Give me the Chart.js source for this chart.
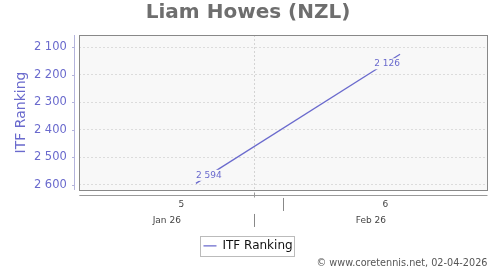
<!DOCTYPE html>
<html>
<head>
<meta charset="utf-8">
<style>
  html, body { margin: 0; padding: 0; background: #fff; }
  #wrap { width: 500px; height: 270px; }
</style>
<script src="https://cdn.jsdelivr.net/npm/chart.js@4.4.1/dist/chart.umd.min.js"></script>
</head>
<body>
<div id="wrap"><canvas id="chart" width="500" height="270"></canvas></div>
<script>
// ranking points (dates as day offsets from the start of week 5)
const startDate = '2026-01-26';
const pointDates = ['2026-01-30', '2026-02-06'];
const itfRanking = [2594, 2126];

// x axis: two weeks, split into week and month bands
const axisDays = 14;
const weekCenters = [3.5, 10.5];
const weekLabels = ['5', '6'];
const weekBreaks = [7];
const monthTicks = [3, 6, 10];
const monthLabels = ['Jan 26', '', 'Feb 26'];
const monthBreaks = [6];

const yMin = 2056;
const yMax = 2618;

const BLUE = '#6a6acd';
const FONT = "'DejaVu Sans', sans-serif";

function dayOffset(d) {
    return (Date.parse(d) - Date.parse(startDate)) / 86400000;
}

function fmt(v) {
    const s = String(v);
    return s.length > 3 ? s.slice(0, -3) + '\u00a0' + s.slice(-3) : s;
}

const points = pointDates.map((d, i) => ({ x: dayOffset(d), y: itfRanking[i] }));

const frame = {
    id: 'frame',
    beforeDraw(chart) {
        const { ctx, chartArea: a } = chart;
        ctx.save();
        ctx.fillStyle = '#f8f8f8';
        ctx.fillRect(a.left, a.top, a.width, a.height);
        ctx.restore();
    },
    afterDatasetsDraw(chart) {
        // value labels, masking the line underneath
        const { ctx } = chart;
        const meta = chart.getDatasetMeta(0);
        ctx.save();
        ctx.font = '9px ' + FONT;
        ctx.textBaseline = 'middle';
        meta.data.forEach((pt, i) => {
            const text = fmt(itfRanking[i]);
            const w = ctx.measureText(text).width;
            const first = i === 0;
            const x = first ? pt.x : pt.x - w;
            const cy = first ? pt.y - 8 : pt.y + 9.5;
            ctx.fillStyle = '#f8f8f8';
            ctx.fillRect(x, cy - 5.5, w, 11);
            ctx.fillStyle = BLUE;
            ctx.textAlign = 'left';
            ctx.fillText(text, x, cy);
        });
        ctx.restore();
    },
    afterDraw(chart) {
        const { ctx, chartArea: a, scales } = chart;
        ctx.save();
        ctx.lineWidth = 1;
        ctx.strokeStyle = '#888';
        ctx.strokeRect(Math.round(a.left) + 0.5, Math.round(a.top) + 0.5,
            Math.round(a.width), Math.round(a.height));

        // y axis line and tick marks
        const yx = Math.round(a.left) - 4.5;
        ctx.strokeStyle = '#b4b4dc';
        ctx.beginPath();
        ctx.moveTo(yx, a.top);
        ctx.lineTo(yx, a.bottom);
        scales.y.ticks.forEach((t) => {
            const py = Math.round(scales.y.getPixelForValue(t.value)) + 0.5;
            ctx.moveTo(yx - 2.5, py);
            ctx.lineTo(yx, py);
        });
        ctx.stroke();

        // x axis line
        const xy = Math.round(a.bottom) + 5.5;
        ctx.strokeStyle = '#999';
        ctx.beginPath();
        ctx.moveTo(a.left, xy);
        ctx.lineTo(a.right, xy);
        monthBreaks.forEach((v) => {
            const px = Math.round(scales.x2.getPixelForValue(v)) + 0.5;
            ctx.moveTo(px, xy - 3);
            ctx.lineTo(px, xy + 2);
        });
        ctx.stroke();

        // week and month separators
        ctx.strokeStyle = '#888';
        ctx.beginPath();
        weekBreaks.forEach((v) => {
            const px = Math.round(scales.x.getPixelForValue(v)) + 0.5;
            ctx.moveTo(px, a.bottom + 8);
            ctx.lineTo(px, a.bottom + 21);
        });
        monthBreaks.forEach((v) => {
            const px = Math.round(scales.x2.getPixelForValue(v)) + 0.5;
            ctx.moveTo(px, a.bottom + 24);
            ctx.lineTo(px, a.bottom + 37);
        });
        ctx.stroke();

        // legend frame
        const hb = chart.legend.legendHitBoxes[0];
        if (hb) {
            const cy = hb.top + hb.height / 2;
            ctx.strokeStyle = '#bbb';
            ctx.strokeRect(Math.round(hb.left - 3) + 0.5, Math.round(cy - 10) + 0.5,
                Math.round(hb.width + 5), 20);
        }
        ctx.restore();
    },
};

new Chart(document.getElementById('chart'), {
    type: 'line',
    data: {
        datasets: [{
            label: 'ITF Ranking',
            data: points,
            borderColor: BLUE,
            backgroundColor: BLUE,
            borderWidth: 1.3,
            pointRadius: 0,
            tension: 0,
        }],
    },
    options: {
        responsive: false,
        animation: false,
        events: [],
        layout: { padding: { left: 8.6, right: 12.5, top: 0, bottom: 0 } },
        scales: {
            x: {
                type: 'linear',
                min: 0,
                max: axisDays,
                afterBuildTicks(scale) {
                    scale.ticks = weekCenters.map((v) => ({ value: v }));
                },
                ticks: {
                    autoSkip: false,
                    maxRotation: 0,
                    padding: 0,
                    color: '#444',
                    font: { family: FONT, size: 9 },
                    callback: (v, i) => weekLabels[i],
                },
                grid: {
                    drawOnChartArea: false,
                    drawTicks: true,
                    tickLength: 9,
                    tickColor: 'rgba(0,0,0,0)',
                },
                border: { display: false },
            },
            x2: {
                type: 'linear',
                position: 'bottom',
                min: 0,
                max: axisDays,
                afterBuildTicks(scale) {
                    scale.ticks = monthTicks.map((v) => ({ value: v }));
                },
                ticks: {
                    autoSkip: false,
                    maxRotation: 0,
                    padding: 5,
                    color: '#444',
                    font: { family: FONT, size: 9 },
                    callback: (v, i) => monthLabels[i],
                },
                grid: {
                    drawOnChartArea: true,
                    drawTicks: false,
                    color: (c) => (c.tick && monthBreaks.includes(c.tick.value) ? '#d4d4d4' : 'rgba(0,0,0,0)'),
                    borderDash: [2, 2],
                },
                border: { display: false, dash: [2, 2] },
            },
            y: {
                reverse: true,
                min: yMin,
                max: yMax,
                ticks: {
                    stepSize: 100,
                    includeBounds: false,
                    padding: 4.5,
                    color: BLUE,
                    font: { family: FONT, size: 11.5 },
                    callback: (v) => fmt(v),
                },
                grid: {
                    color: '#dcdcdc',
                    borderDash: [2, 2],
                    drawTicks: true,
                    tickLength: 8,
                    tickColor: 'rgba(0,0,0,0)',
                },
                border: { display: false, dash: [2, 2] },
                title: {
                    display: true,
                    text: 'ITF Ranking',
                    color: BLUE,
                    font: { family: FONT, size: 14 },
                    padding: { top: 4, bottom: 0 },
                },
            },
        },
        plugins: {
            title: {
                display: true,
                text: 'Liam Howes (NZL)',
                color: '#6e6e6e',
                font: { family: FONT, size: 20, weight: 'bold' },
                padding: { top: 1, bottom: 10 },
            },
            subtitle: {
                display: true,
                position: 'bottom',
                align: 'end',
                text: '\u00a9 www.coretennis.net, 02-04-2026',
                color: '#555',
                font: { family: FONT, size: 9.7 },
                padding: { top: -4.8, bottom: 1.2 },
            },
            legend: {
                position: 'bottom',
                labels: {
                    usePointStyle: true,
                    pointStyle: 'line',
                    pointStyleWidth: 13,
                    color: '#111',
                    padding: 9.4,
                    font: { family: FONT, size: 12 },
                },
            },
            tooltip: { enabled: false },
        },
    },
    plugins: [frame],
});
</script>
</body>
</html>
